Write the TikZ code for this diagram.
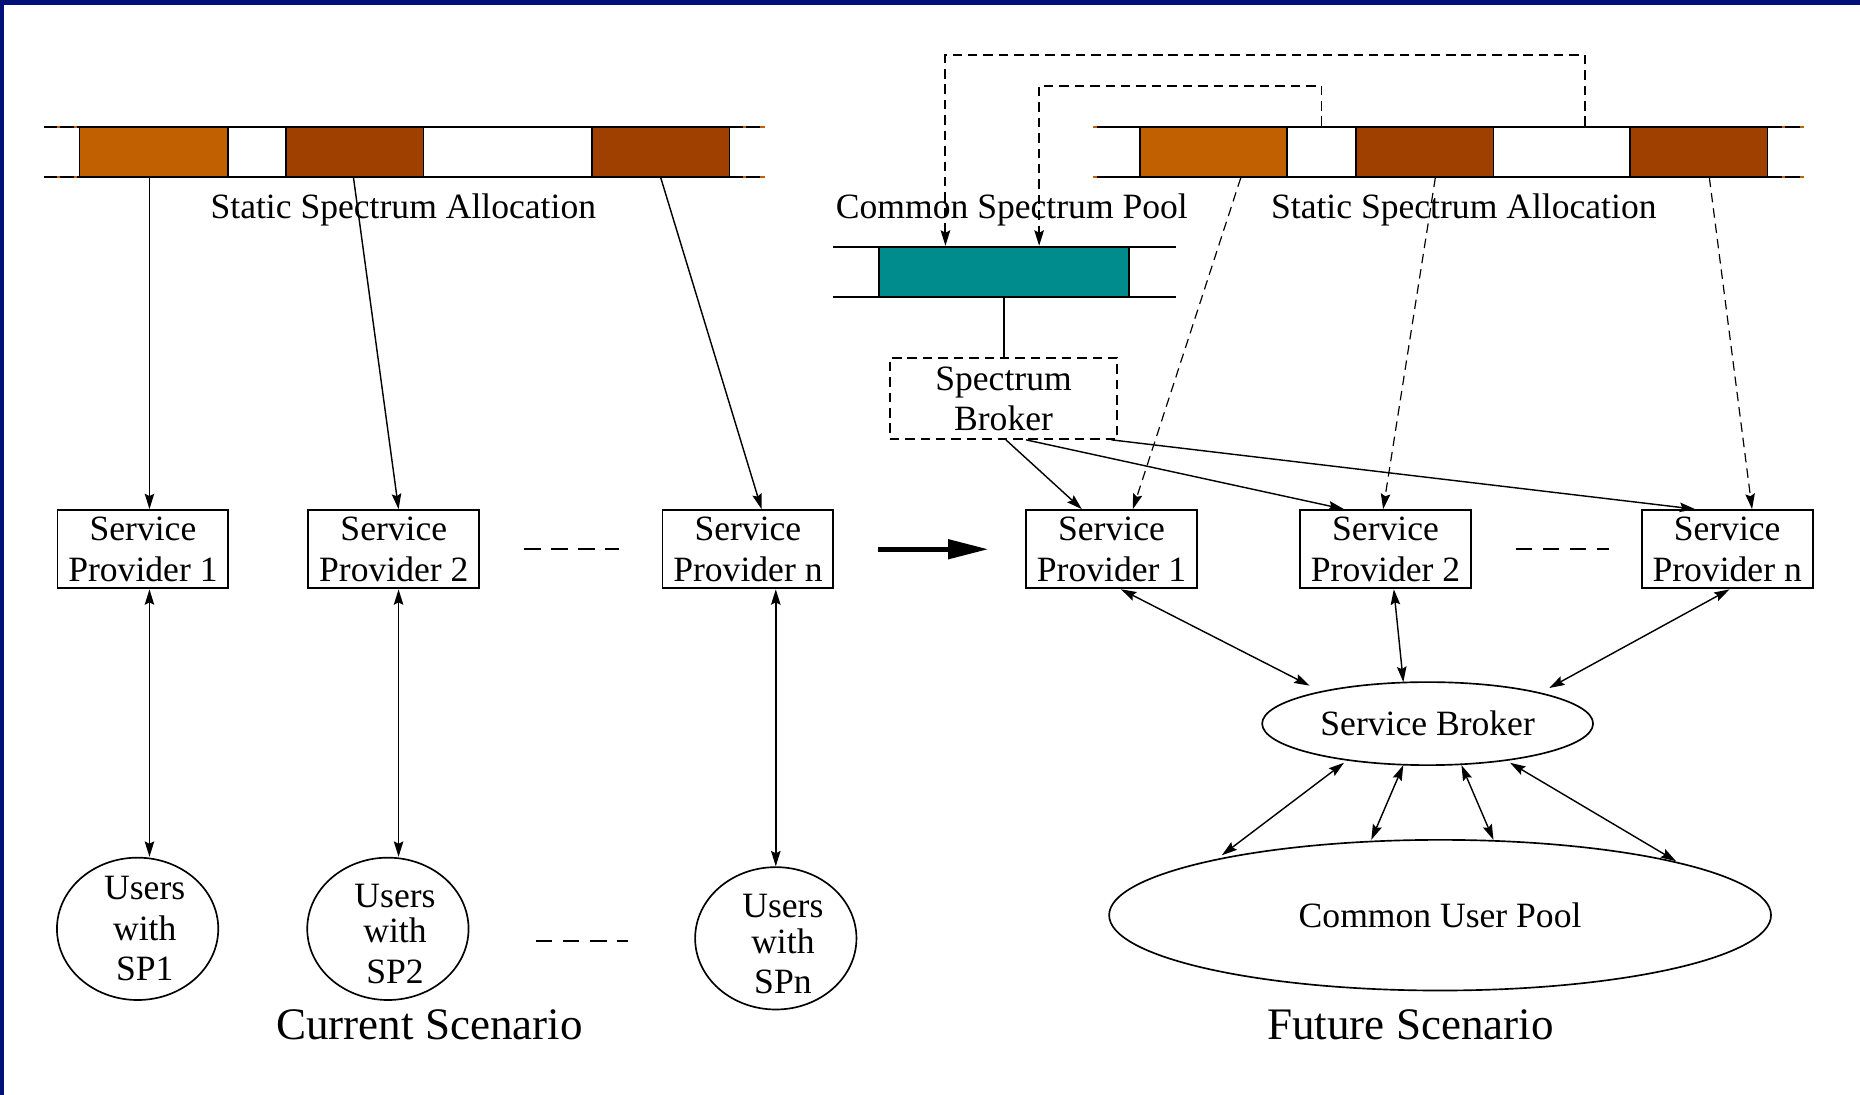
\documentclass[tikz,border=0pt]{standalone}
\usepackage{fontspec}
\setmainfont{Liberation Serif}
\usetikzlibrary{arrows.meta,calc,shapes.geometric}

\definecolor{navyframe}{RGB}{0,16,120}
\definecolor{bandorange}{RGB}{192,96,0}
\definecolor{bandbrown}{RGB}{160,64,0}
\definecolor{poolteal}{RGB}{0,140,140}

% a line of text nudged right inside the user ellipses
\newcommand{\uline}[1]{\hspace*{6pt}#1}

\begin{document}
\begin{tikzpicture}[x=0.5pt,y=-0.5pt,
  font=\fontsize{15}{17}\selectfont,
  band/.style={draw=black, line width=0.8pt, minimum height=21pt, inner sep=0pt},
  provider/.style={draw=black, line width=0.8pt, minimum width=72pt, minimum height=33pt,
                   inner sep=0pt, align=center},
  users/.style={ellipse, draw=black, line width=0.7pt, minimum width=68pt, minimum height=60pt,
                inner sep=-8pt, align=center},
  tip/.style={-{Stealth[length=6.5pt,width=4pt,inset=1pt]}},
  arr/.style={line width=0.6pt, tip},
  dbl/.style={line width=0.6pt, {Stealth[length=6.5pt,width=4pt,inset=1pt]}-{Stealth[length=6.5pt,width=4pt,inset=1pt]}},
  darr/.style={line width=0.5pt, tip, dash pattern=on 4pt off 2.5pt},
  fback/.style={line width=0.8pt, tip, dash pattern=on 4pt off 2.5pt},
  gap/.style={line width=0.7pt, dash pattern=on 7pt off 4.4pt},
  bandend/.style={line width=0.8pt},
  scenario/.style={font=\fontsize{19}{22}\selectfont, anchor=base}
]
\useasboundingbox (0,0) rectangle (1568,923);
\fill[white] (0,0) rectangle (1568,923);
\fill[navyframe] (0,0) rectangle (1568,4.2);
\fill[navyframe] (0,0) rectangle (3.4,923);

% ---------------- current scenario: static allocation band ----------------
\node[band, fill=bandorange, minimum width=62.5pt] (lo1) at (129.5,128) {};
\node[band, fill=white,      minimum width=24.5pt] (lw1) at (216.5,128) {};
\node[band, fill=bandbrown,  minimum width=58pt]   (lb2) at (299,128) {};
\node[band, fill=white,      minimum width=71pt]   (lw2) at (428,128) {};
\node[band, fill=bandbrown,  minimum width=58pt]   (lb3) at (557,128) {};
\foreach \yy in {107,149}{
  \draw[bandend] (37,\yy) -- (67,\yy);
  \draw[bandend] (615,\yy) -- (645,\yy);
  \draw[bandend, bandorange] (48,\yy) -- (50.5,\yy) (62.5,\yy) -- (65,\yy);
  \draw[bandend, bandorange] (626,\yy) -- (629,\yy) (641,\yy) -- (645,\yy);
}
\node[anchor=base] (lsal) at (340,184) {Static Spectrum Allocation};

% providers and their users
\node[provider] (lsp1) at (120.5,463) {Service\\Provider 1};
\node[provider] (lsp2) at (332,463)   {Service\\Provider 2};
\node[provider] (lspn) at (630.5,463) {Service\\Provider n};

\node[users] (u1) at (116,783) {\uline{Users}\\\uline{with}\\\uline{SP1}};
\node[users] (u2) at (327,783) {\uline{\rule{0pt}{14pt}Users}\\[-2pt]\uline{with}\\\uline{SP2}};
\node[users] (un) at (654,791) {\uline{\rule{0pt}{15pt}Users}\\[-2pt]\uline{with}\\\uline{SPn}};

\draw[arr] ($(lo1.south)+(-3.5,0)$) -- ($(lsp1.north)+(5.5,0)$);
\draw[arr] ($(lb2.south)+(-1,0)$)   -- ($(lsp2.north)+(4,0)$);
\draw[arr] (lb3.south)              -- ($(lspn.north)+(11.5,0)$);

\draw[dbl] ($(lsp1.south)+(5.5,0)$)  -- ($(u1.north)+(10,0)$);
\draw[dbl] ($(lsp2.south)+(4,0)$)    -- ($(u2.north)+(9,0)$);
\draw[dbl] ($(lspn.south)+(23.5,0)$) -- (un.north);

\draw[gap] ($(lsp2.east)+(37,0)$) -- ($(lspn.west)+(-36,0)$);
\draw[gap] ($(u2.east)+(56,10)$)  -- ($(un.west)+(-56,2)$);

\node[scenario] (cur) at (362,876) {Current Scenario};

% ---------------- future scenario ----------------
% common spectrum pool
\draw[bandend] (702,208) -- (991,208) (702,250) -- (991,250);
\node[band, fill=poolteal, minimum width=105.5pt] (pool) at (846.5,229) {};
\node[anchor=base] (cspl) at (853,184) {Common Spectrum Pool};

\node[draw=black, line width=0.8pt, dash pattern=on 4pt off 2.5pt,
      minimum width=96pt, minimum height=34pt, inner sep=0pt, align=center]
      (sbk) at (846,336) {Spectrum\\Broker};
\draw[line width=0.6pt] (pool.south) -- (pool.south |- sbk.north);

% static allocation band
\node[band, fill=bandorange, minimum width=62pt]   (ro1) at (1023,128) {};
\node[band, fill=white,      minimum width=29pt]   (rw1) at (1114,128) {};
\node[band, fill=bandbrown,  minimum width=58pt]   (rb2) at (1201,128) {};
\node[band, fill=white,      minimum width=57.5pt] (rw2) at (1316.5,128) {};
\node[band, fill=bandbrown,  minimum width=58pt]   (rb3) at (1432,128) {};
\foreach \yy in {107,149}{
  \draw[bandend] (921,\yy) -- (961,\yy);
  \draw[bandend] (1490,\yy) -- (1521,\yy);
  \draw[bandend, bandorange] (921,\yy) -- (925,\yy);
  \draw[bandend, bandorange] (1502,\yy) -- (1505,\yy) (1517,\yy) -- (1521,\yy);
}
\node[anchor=base] (rsal) at (1234,184) {Static Spectrum Allocation};

% unused bands handed back to the pool
\draw[fback] (rw1.north) -- ++(0,-34) -| ($(pool.north)+(29.5,0)$);
\draw[fback] ($(rw2.north)+(19.5,0)$) -- ++(0,-60) -| ($(pool.north)+(-49.5,0)$);

% providers
\node[provider] (rsp1) at (937,463)  {Service\\Provider 1};
\node[provider] (rsp2) at (1168,463) {Service\\Provider 2};
\node[provider] (rspn) at (1456,463) {Service\\Provider n};
\draw[gap] ($(rsp2.east)+(37,0)$) -- ($(rspn.west)+(-27,0)$);

\draw[darr] ($(ro1.south)+(23,0)$) -- ($(rsp1.north)+(18,0)$);
\draw[darr] ($(rb2.south)+(9,0)$)  -- ($(rsp2.north)+(-2,0)$);
\draw[darr] ($(rb3.south)+(9,0)$)  -- ($(rspn.north)+(21,0)$);

\draw[arr] ($(sbk.south)+(2,0)$)  -- ($(rsp1.north)+(-25,0)$);
\draw[arr] ($(sbk.south)+(19,0)$) -- ($(rsp2.north)+(-35,0)$);
\draw[arr] ($(sbk.south)+(91,0)$) -- ($(rspn.north)+(-27,0)$);

% transition from current to future
\draw[line width=2pt, -{Triangle[length=17pt,width=8pt]}]
  ($(lspn.east)+(37,0)$) -- ($(rsp1.west)+(-31,0)$);

% service broker and common user pool
\node[ellipse, draw=black, line width=0.7pt, minimum width=139.5pt, minimum height=35pt,
      inner sep=0pt] (sb) at (1203.5,610) {Service Broker};
\node[ellipse, draw=black, line width=0.7pt, minimum width=279pt, minimum height=63.5pt,
      inner sep=0pt] (cup) at (1214,771.5) {Common User Pool};

\draw[dbl] ($(rsp1.south)+(8,0)$) -- ($(sb.center)+(-99.5,-32)$);
\draw[dbl] ($(rsp2.south)+(7,0)$) -- ($(sb.center)+(-20.5,-35)$);
\draw[dbl] ($(rspn.south)+(2,0)$) -- ($(sb.center)+(102.5,-30)$);

\draw[dbl] ($(sb.center)+(-70.5,33)$) -- ($(cup.center)+(-184,-50.5)$);
\draw[dbl] ($(sb.center)+(-20.5,35)$) -- ($(cup.center)+(-58,-63.5)$);
\draw[dbl] ($(sb.center)+(28.5,35)$)  -- ($(cup.center)+(45,-63.5)$);
\draw[dbl] ($(sb.center)+(69.5,33)$)  -- ($(cup.center)+(199,-45.5)$);

\node[scenario] (fut) at (1189,876) {Future Scenario};
\end{tikzpicture}
\end{document}
